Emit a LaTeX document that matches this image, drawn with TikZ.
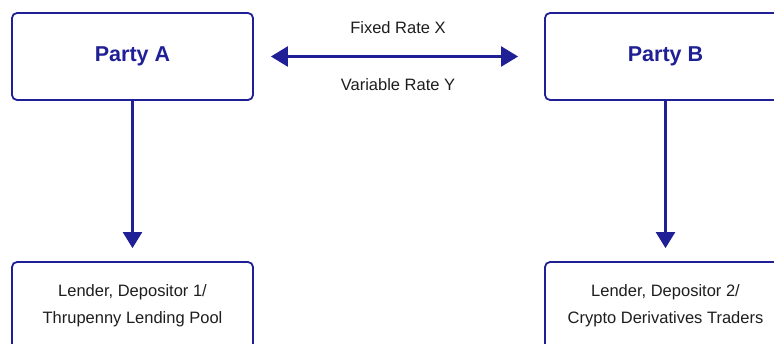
\documentclass[tikz,border=0pt]{standalone}
\usepackage{fontspec}
\setmainfont{Liberation Sans}
\usetikzlibrary{arrows.meta}
\definecolor{navy}{RGB}{32,32,150}
\definecolor{ink}{RGB}{30,30,30}
\tikzset{
  box/.style={draw=navy, line width=1.8pt, rounded corners=5pt, fill=white,
    minimum width=241pt, minimum height=87pt, inner sep=0pt, align=center},
  party/.style={box, text=navy, font=\fontsize{21.5}{26}\selectfont\bfseries},
  role/.style={box, text=ink, font=\fontsize{16.5}{27}\selectfont},
  lbl/.style={text=ink, font=\fontsize{16.5}{20}\selectfont, inner sep=0pt},
  arr/.style={draw=navy, line width=2.4pt, -{Triangle[length=16pt,width=19pt]}},
  darr/.style={draw=navy, line width=2.4pt, {Triangle[length=17pt,width=20pt]}-{Triangle[length=17pt,width=20pt]}}
}
\begin{document}
\begin{tikzpicture}[x=1pt,y=-1pt]
\useasboundingbox (0,0) rectangle (774,343);
\clip (0,0) rectangle (774,343);
\node[party] (A) at (132.5,56.5) {Party A};
\node[party] (B) at (665.5,56.5) {Party B};
\node[role] (LA) at (132.5,305.5) {Lender, Depositor 1/\\Thrupenny Lending Pool};
\node[role] (LB) at (665.5,305.5) {Lender, Depositor 2/\\Crypto Derivatives Traders};
\draw[darr, shorten <=17pt, shorten >=26pt] (A.east) -- (B.west);
\node[lbl] (fx) at (398,28) {Fixed Rate X};
\node[lbl] (vr) at (398,85) {Variable Rate Y};
\draw[arr, shorten >=13pt] (A.south) -- (LA.north);
\draw[arr, shorten >=13pt] (B.south) -- (LB.north);
\end{tikzpicture}
\end{document}
